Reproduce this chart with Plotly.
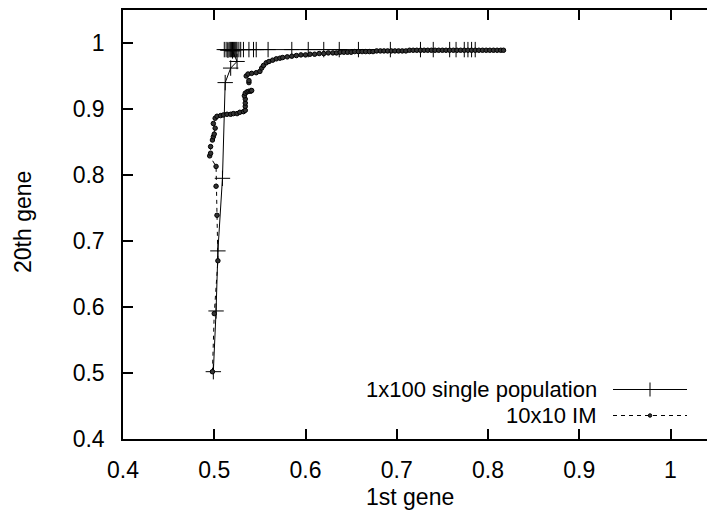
import plotly.graph_objects as go

# ---------------- data ----------------
S1_NAME = "1x100 single population"
S1_X = [0.499, 0.502, 0.504, 0.509, 0.512, 0.518, 0.525, 0.520, 0.515, 0.511,
        0.513, 0.515, 0.517, 0.518, 0.519, 0.520, 0.521, 0.522, 0.523, 0.524,
        0.525, 0.527, 0.529, 0.532, 0.538, 0.543, 0.546, 0.559, 0.585, 0.603,
        0.620, 0.637, 0.658, 0.693, 0.726, 0.740, 0.758, 0.765, 0.774, 0.778,
        0.782, 0.786]
S1_Y = [0.502, 0.594, 0.685, 0.795, 0.940, 0.962, 0.972, 0.988, 0.989, 0.990,
        0.990, 0.990, 0.990, 0.990, 0.990, 0.990, 0.990, 0.990, 0.990, 0.990,
        0.990, 0.990, 0.990, 0.990, 0.990, 0.990, 0.990, 0.990, 0.990, 0.990,
        0.990, 0.990, 0.990, 0.990, 0.990, 0.990, 0.990, 0.990, 0.990, 0.990,
        0.990, 0.990]

S2_NAME = "10x10 IM"
S2_X = [0.498, 0.500, 0.504, 0.503, 0.502, 0.502, 0.495, 0.496, 0.496, 0.498,
        0.499, 0.500, 0.501, 0.499, 0.501, 0.503, 0.507, 0.510, 0.514, 0.518,
        0.521, 0.525, 0.528, 0.532, 0.534, 0.534, 0.534, 0.534, 0.533, 0.534,
        0.536, 0.538, 0.540, 0.541, 0.538, 0.538, 0.535, 0.537, 0.541, 0.546,
        0.550, 0.552, 0.554, 0.557, 0.560, 0.564, 0.568, 0.572, 0.575, 0.580,
        0.585, 0.590, 0.595, 0.600, 0.605, 0.610, 0.615, 0.620, 0.625, 0.630,
        0.634, 0.638, 0.642, 0.646, 0.650, 0.654, 0.658, 0.662, 0.666, 0.670,
        0.674, 0.678, 0.682, 0.686, 0.690, 0.694, 0.698, 0.702, 0.706, 0.710,
        0.714, 0.718, 0.722, 0.726, 0.730, 0.734, 0.738, 0.742, 0.746, 0.750,
        0.754, 0.758, 0.762, 0.766, 0.770, 0.774, 0.778, 0.782, 0.786, 0.790,
        0.794, 0.798, 0.802, 0.806, 0.810, 0.814, 0.817]
S2_Y = [0.502, 0.590, 0.670, 0.739, 0.783, 0.813, 0.829, 0.833, 0.843, 0.853,
        0.858, 0.862, 0.871, 0.878, 0.886, 0.889, 0.890, 0.891, 0.892, 0.892,
        0.893, 0.893, 0.895, 0.896, 0.898, 0.904, 0.909, 0.915, 0.920, 0.924,
        0.926, 0.927, 0.927, 0.928, 0.940, 0.943, 0.950, 0.953, 0.954, 0.955,
        0.957, 0.962, 0.966, 0.970, 0.972, 0.974, 0.976, 0.977, 0.978, 0.979,
        0.980, 0.981, 0.982, 0.982, 0.983, 0.983, 0.984, 0.984, 0.985, 0.985,
        0.985, 0.986, 0.986, 0.986, 0.986, 0.987, 0.987, 0.987, 0.987, 0.987,
        0.987, 0.988, 0.988, 0.988, 0.988, 0.988, 0.988, 0.988, 0.988, 0.988,
        0.989, 0.989, 0.989, 0.989, 0.989, 0.989, 0.989, 0.989, 0.989, 0.989,
        0.989, 0.989, 0.989, 0.989, 0.989, 0.989, 0.989, 0.989, 0.989, 0.989,
        0.989, 0.989, 0.989, 0.989, 0.989, 0.989, 0.989]

X_TICKS = [0.4, 0.5, 0.6, 0.7, 0.8, 0.9, 1.0]
X_TICK_TEXT = ["0.4", "0.5", "0.6", "0.7", "0.8", "0.9", "1"]
Y_TICKS = [0.4, 0.5, 0.6, 0.7, 0.8, 0.9, 1.0]
Y_TICK_TEXT = ["0.4", "0.5", "0.6", "0.7", "0.8", "0.9", "1"]
X_TITLE = "1st gene"
Y_TITLE = "20th gene"

# ---------------- layout constants (pixels) ----------------
W, H = 707, 517
ML, MR, MT, MB = 123, 0, 10, 78
PW, PH = W - ML - MR, H - MT - MB
FONT = "Liberation Sans, Arial, Helvetica, sans-serif"
FS = 23
FS_LEG = 22


def px2paper_x(px):
    return (px - ML) / PW


def px2paper_y(py):
    return (H - MB - py) / PH


fig = go.Figure()

fig.add_trace(go.Scatter(
    x=S1_X, y=S1_Y, mode="lines+markers", name=S1_NAME,
    line=dict(color="black", width=1),
    marker=dict(symbol="cross-thin", size=11, line=dict(color="black", width=1)),
    showlegend=False,
))
fig.add_trace(go.Scatter(
    x=S2_X, y=S2_Y, mode="lines+markers", name=S2_NAME,
    line=dict(color="black", width=1, dash="4px,4px"),
    marker=dict(symbol="circle", size=4.5, color="#333333",
                line=dict(color="black", width=1)),
    showlegend=False,
))

# ---- legend drawn manually (text left of sample, as in reference) ----
LEG_TEXT_RIGHT = 598
LEG_ROWS_Y = [389.5, 415.5]
LEG_SAMPLE_X0, LEG_SAMPLE_X1, LEG_MARK_X = 613, 687, 650

fig.add_trace(go.Scatter(
    x=[LEG_SAMPLE_X0, LEG_SAMPLE_X1], y=[LEG_ROWS_Y[0]] * 2, mode="lines",
    line=dict(color="black", width=1), xaxis="x2", yaxis="y2",
    showlegend=False, hoverinfo="skip"))
fig.add_trace(go.Scatter(
    x=[LEG_MARK_X], y=[LEG_ROWS_Y[0]], mode="markers",
    marker=dict(symbol="cross-thin", size=10, line=dict(color="black", width=1)),
    xaxis="x2", yaxis="y2", showlegend=False, hoverinfo="skip"))
fig.add_trace(go.Scatter(
    x=[LEG_SAMPLE_X0, LEG_SAMPLE_X1], y=[LEG_ROWS_Y[1]] * 2, mode="lines",
    line=dict(color="black", width=1, dash="4px,4px"), xaxis="x2", yaxis="y2",
    showlegend=False, hoverinfo="skip"))
fig.add_trace(go.Scatter(
    x=[LEG_MARK_X], y=[LEG_ROWS_Y[1]], mode="markers",
    marker=dict(symbol="circle", size=3.5, color="#333333",
                line=dict(color="black", width=1)),
    xaxis="x2", yaxis="y2", showlegend=False, hoverinfo="skip"))

annotations = [
    dict(text=S1_NAME, x=px2paper_x(LEG_TEXT_RIGHT), y=px2paper_y(LEG_ROWS_Y[0]),
         xref="paper", yref="paper", xanchor="right", yanchor="middle",
         borderpad=0, showarrow=False,
         font=dict(family=FONT, size=FS_LEG, color="black")),
    dict(text=S2_NAME, x=px2paper_x(LEG_TEXT_RIGHT), y=px2paper_y(LEG_ROWS_Y[1]),
         xref="paper", yref="paper", xanchor="right", yanchor="middle",
         borderpad=0, showarrow=False,
         font=dict(family=FONT, size=FS_LEG, color="black")),
    dict(text=X_TITLE, x=px2paper_x(410), y=px2paper_y(497),
         xref="paper", yref="paper", xanchor="center", yanchor="middle",
         showarrow=False, font=dict(family=FONT, size=FS, color="black")),
    dict(text=Y_TITLE, x=px2paper_x(22.5), y=px2paper_y(222.5), textangle=-90,
         xref="paper", yref="paper", xanchor="center", yanchor="middle",
         showarrow=False, font=dict(family=FONT, size=FS, color="black")),
]

axis_common = dict(
    showgrid=False, zeroline=False, showline=True, linecolor="black",
    linewidth=1.5, ticks="inside", ticklen=10, tickwidth=1.5, tickcolor="black",
    tickfont=dict(family=FONT, size=FS, color="black"),
)

fig.update_layout(
    width=W, height=H,
    margin=dict(l=ML, r=MR, t=MT, b=MB, pad=0),
    paper_bgcolor="white", plot_bgcolor="white",
    xaxis=dict(range=[0.4, 1.04], tickvals=X_TICKS, ticktext=X_TICK_TEXT,
               mirror="ticks", ticklabelstandoff=10, **axis_common),
    yaxis=dict(range=[0.4, 1.05], tickvals=Y_TICKS, ticktext=Y_TICK_TEXT,
               mirror=False, ticklabelstandoff=12, **axis_common),
    xaxis2=dict(range=[ML, W - MR], overlaying="x", visible=False,
                fixedrange=True),
    yaxis2=dict(range=[H - MB, MT], overlaying="y", visible=False,
                fixedrange=True),
    annotations=annotations,
    showlegend=False,
)

fig.write_html("out.html")
